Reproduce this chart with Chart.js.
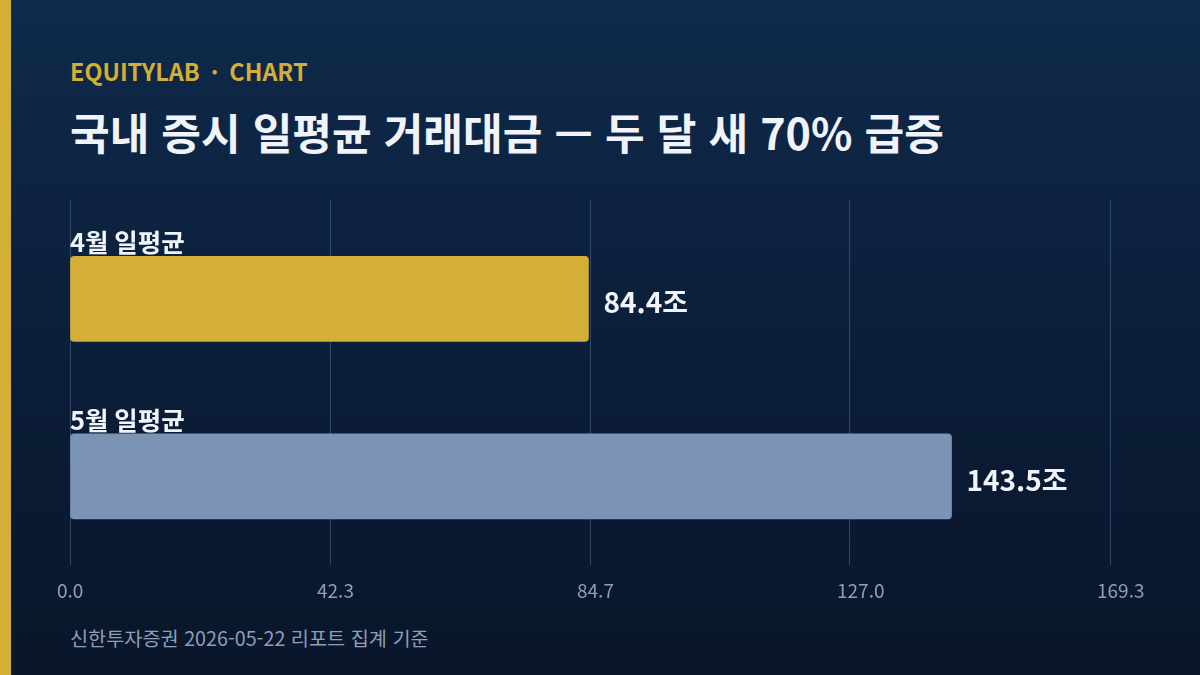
<!DOCTYPE html>
<html lang="ko">
<head>
<meta charset="utf-8">
<script src="https://cdn.jsdelivr.net/npm/chart.js@4.4.1/dist/chart.umd.min.js"></script>
<style>
  html, body { margin: 0; padding: 0; }
  body {
    width: 1200px; height: 675px; overflow: hidden; position: relative;
    background: linear-gradient(180deg, #0f2a4b 0%, #0b1c36 60%, #09162b 100%);
    font-family: "Noto Sans CJK KR", "Noto Sans", sans-serif;
  }
  .accent { position: absolute; left: 0; top: 0; width: 11px; height: 675px; background: #d4af37; }
  .kicker { position: absolute; left: 70px; top: 54px; color: #d4af37; font-size: 23.4px; font-weight: 700; white-space: nowrap; }
  .kicker .dot { margin: 0 11px; }
  .title { position: absolute; left: 70px; top: 100px; color: #f0f4fa; font-size: 43.1px; font-weight: 700; white-space: nowrap; }
  .footer { position: absolute; left: 70px; top: 623px; color: #8e9fb8; font-size: 19.7px; white-space: nowrap; }
  #wrap { position: absolute; left: 0; top: 0; width: 1200px; height: 675px; }
  canvas { display: block; }
</style>
</head>
<body>
<div class="accent"></div>
<div class="kicker">EQUITYLAB<span class="dot">·</span>CHART</div>
<div class="title">국내 증시 일평균 거래대금 — 두 달 새 70% 급증</div>
<div class="footer">신한투자증권 2026-05-22 리포트 집계 기준</div>
<div id="wrap"><canvas id="c" width="1200" height="675"></canvas></div>
<script>
const categories = ["4월 일평균", "5월 일평균"];
const values = [84.4, 143.5];
const valueLabels = ["84.4조", "143.5조"];
const barColors = ["#d4af37", "#7b93b5"];
const tickValues = [0, 42.325, 84.65, 126.975, 169.3];
const tickLabels = ["0.0", "42.3", "84.7", "127.0", "169.3"];
const axisMax = 169.3;

const FONT = '"Noto Sans CJK KR", "Noto Sans", sans-serif';

const labelPlugin = {
  id: 'barLabels',
  afterDatasetsDraw(chart) {
    const ctx = chart.ctx;
    const meta = chart.getDatasetMeta(0);
    ctx.save();
    meta.data.forEach((bar, i) => {
      const top = bar.y - bar.height / 2;
      ctx.fillStyle = '#f0f4fa';
      ctx.font = '700 25.5px ' + FONT;
      ctx.textAlign = 'left';
      ctx.textBaseline = 'alphabetic';
      ctx.fillText(categories[i], chart.chartArea.left, top - 4);
      ctx.font = '700 28px ' + FONT;
      ctx.textBaseline = 'middle';
      ctx.fillText(valueLabels[i], bar.x + 15, bar.y + 4);
    });
    ctx.restore();
  }
};

new Chart(document.getElementById('c'), {
  type: 'bar',
  data: {
    labels: categories,
    datasets: [{
      data: values,
      backgroundColor: barColors,
      borderRadius: 4,
      borderSkipped: false,
      barThickness: 85
    }]
  },
  options: {
    indexAxis: 'y',
    responsive: false,
    animation: false,
    layout: { padding: { left: 70, right: 90, top: 200, bottom: 59 } },
    plugins: { legend: { display: false }, tooltip: { enabled: false }, title: { display: false } },
    scales: {
      x: {
        min: 0, max: axisMax,
        afterBuildTicks(axis) { axis.ticks = tickValues.map(v => ({ value: v })); },
        grid: { color: 'rgba(110,140,190,0.38)', lineWidth: 1, drawTicks: false },
        border: { display: false },
        ticks: {
          color: '#8e9fb8',
          font: { family: FONT, size: 19 },
          padding: 14,
          align: 'start',
          labelOffset: -13,
          maxRotation: 0,
          callback: (v, i) => tickLabels[i]
        }
      },
      x2: {
        axis: 'x', position: 'top', min: 0, max: axisMax,
        afterBuildTicks(axis) { axis.ticks = tickValues.map(v => ({ value: v })); },
        grid: { color: 'rgba(110,140,190,0.38)', lineWidth: 1, drawOnChartArea: false, drawTicks: true, tickLength: 10 },
        border: { display: false },
        ticks: { display: false, padding: 0 }
      },
      y: {
        display: false
      }
    }
  },
  plugins: [labelPlugin]
});
</script>
</body>
</html>
